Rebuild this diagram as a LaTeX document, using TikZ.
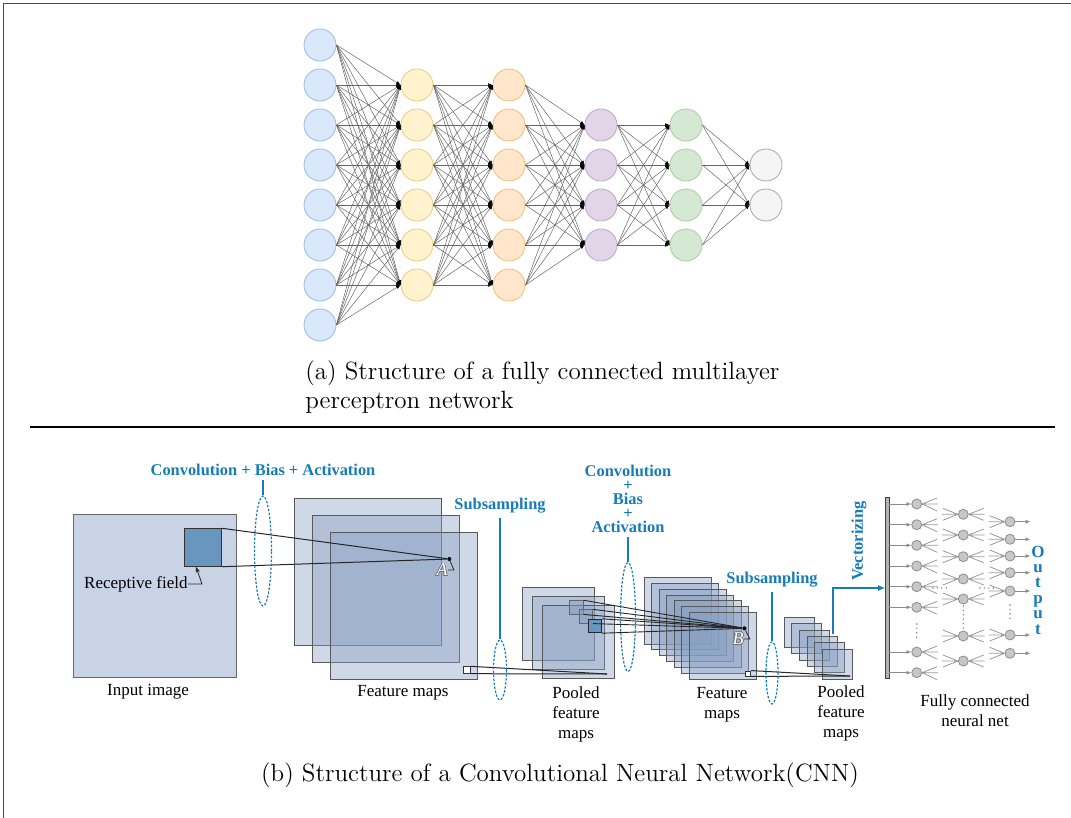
\documentclass[tikz,border=0pt]{standalone}
\usepackage{fontspec}
\usepackage{contour}
\usetikzlibrary{arrows.meta,shapes.geometric}
\newfontfamily\timesfont{Liberation Serif}
\contourlength{0.3pt}
\definecolor{cnnblue}{RGB}{22,124,184}
\definecolor{mapfill}{RGB}{135,158,192}
\definecolor{imgfill}{RGB}{200,212,230}
\definecolor{rffill}{RGB}{104,150,190}
\definecolor{inblue}{HTML}{DAE8FC}
\definecolor{inline}{HTML}{9DB9E3}
\definecolor{yel}{HTML}{FFF2CC}
\definecolor{yelline}{HTML}{E8CD7E}
\definecolor{ora}{HTML}{FFE6CC}
\definecolor{oraline}{HTML}{F0BE72}
\definecolor{pur}{HTML}{E1D5E7}
\definecolor{purline}{HTML}{BCA6C9}
\definecolor{grn}{HTML}{D5E8D4}
\definecolor{grnline}{HTML}{A9CD9B}
\definecolor{gry}{HTML}{F5F5F5}
\definecolor{gryline}{HTML}{A8A8A8}
\tikzset{
  neuron/.style={circle,minimum size=16pt,inner sep=0pt,line width=0.4pt},
  link/.style={black!60,line width=0.25pt,-{Latex[length=2.2pt,width=1.8pt,color=black]}},
  fmap/.style={draw=black!65,fill=mapfill,fill opacity=0.4,line width=0.5pt},
  lbl/.style={font=\timesfont\fontsize{8.5}{10}\selectfont,align=center,inner sep=0pt},
  bluelbl/.style={font=\timesfont\bfseries\fontsize{8.2}{7}\selectfont,text=cnnblue,align=center,inner sep=0pt},
  oval/.style={ellipse,draw=cnnblue,dash pattern=on 1.2pt off 0.8pt,line width=0.6pt,inner sep=0pt},
  unit/.style={circle,draw=black!45,fill=black!22,minimum size=5pt,inner sep=0pt,line width=0.4pt},
  fan/.style={black!40,line width=0.4pt},
  fcarrow/.style={black!45,line width=0.4pt,-{Latex[length=2.4pt,width=2pt]}},
  dotrow/.style={black!50,line width=0.8pt,line cap=round,dash pattern=on 0pt off 2.2pt}
}
\begin{document}
\begin{tikzpicture}[x=0.5pt,y=-0.5pt]
\useasboundingbox (0,0) rectangle (1071,818);
\draw[black!70,line width=0.5pt] (3,818) -- (3,4) -- (1071,4);

\foreach \i in {1,...,8}
  \node[neuron,fill=inblue,draw=inline] (a\i) at (320,5+40*\i) {};
\foreach \i in {1,...,6} {
  \node[neuron,fill=yel,draw=yelline] (b\i) at (417,45+40*\i) {};
  \node[neuron,fill=ora,draw=oraline] (c\i) at (509,45+40*\i) {};
}
\foreach \i in {1,...,4} {
  \node[neuron,fill=pur,draw=purline] (d\i) at (601,85+40*\i) {};
  \node[neuron,fill=grn,draw=grnline] (e\i) at (686,85+40*\i) {};
}
\foreach \i in {1,2}
  \node[neuron,fill=gry,draw=gryline] (f\i) at (766,125+40*\i) {};

\foreach \i in {1,...,8} \foreach \j in {1,...,6} \draw[link] (a\i.east) -- (b\j.west);
\foreach \i in {1,...,6} \foreach \j in {1,...,6} \draw[link] (b\i.east) -- (c\j.west);
\foreach \i in {1,...,6} \foreach \j in {1,...,4} \draw[link] (c\i.east) -- (d\j.west);
\foreach \i in {1,...,4} \foreach \j in {1,...,4} \draw[link] (d\i.east) -- (e\j.west);
\foreach \i in {1,...,4} \foreach \j in {1,2} \draw[link] (e\i.east) -- (f\j.west);

\node[anchor=north west,align=left,inner sep=0pt,font=\fontsize{12.5}{14.5}\selectfont] (capa) at (305,360)
  {(a) Structure of a fully connected multilayer\\perceptron network};
\draw[line width=1pt] (30,427) -- (1055,427);

\draw[black!60,fill=imgfill,line width=0.5pt] (73,514) rectangle (236,677);
\node[draw=black!80,fill=rffill,minimum size=18.7pt,inner sep=0pt,line width=0.5pt] (rf) at (203,547.5) {};
\node[lbl,anchor=east] (rflbl) at (188,584) {Receptive field};
\draw[black!85,line width=0.4pt,-{Stealth[length=3pt,width=2.2pt]}] (rflbl.east) -- ++(14,0) -- (rf.south -| 196,0);

\foreach \k in {0,1,2} \draw[fmap] (294+18*\k,498+17*\k) rectangle ++(147,147);
\node[draw=black!80,fill=white,minimum size=3.3pt,inner sep=0pt,line width=0.4pt] (sb1) at (466.7,670) {};
\node[circle,fill=black,minimum size=2pt,inner sep=0pt] (ptA) at (449.3,559) {};
\node[font=\timesfont\itshape\fontsize{9}{9}\selectfont,inner sep=0pt] (lblA) at (442,570) {\contour{black!55}{\textcolor{white}{A}}};
\draw[black!85,line width=0.4pt] (lblA.east) -- ++(6,0) -- (ptA);
\draw[black!85,line width=0.5pt] (rf.north east) -- (ptA);
\draw[black!85,line width=0.5pt] (rf.south east) -- (ptA);

\foreach \k in {0,1,2} \draw[fmap] (522.7+9.7*\k,587.3+8.9*\k) rectangle ++(72,73.5);
\node[draw=black!60,fill=mapfill,fill opacity=0.5,minimum size=6.7pt,inner sep=0pt,line width=0.4pt] (pa) at (576.3,607.3) {};
\node[draw=black!60,fill=mapfill,fill opacity=0.5,minimum size=6.7pt,inner sep=0pt,line width=0.4pt] (pb) at (586,616.5) {};
\node[draw=black!85,fill=rffill,minimum size=6.7pt,inner sep=0pt,line width=0.5pt] (pc) at (595,626) {};
\coordinate (q1) at (607,674);
\draw[black!85,line width=0.5pt] (sb1.north east) -- (q1);
\draw[black!85,line width=0.5pt] (sb1.south east) -- (q1);

\foreach \k in {0,...,6} \draw[fmap] (644.3+7.5*\k,577.3+5.9*\k) rectangle ++(66.7,66.7);
\node[draw=black!80,fill=white,minimum size=2.5pt,inner sep=0pt,line width=0.4pt] (sb2) at (748.3,673.5) {};
\node[circle,fill=black,minimum size=2pt,inner sep=0pt] (ptB) at (744.5,628.3) {};
\node[font=\timesfont\itshape\fontsize{9}{9}\selectfont,inner sep=0pt] (lblB) at (738,639) {\contour{black!55}{\textcolor{white}{B}}};
\draw[black!85,line width=0.4pt] (lblB.east) -- ++(6,0) -- (ptB);
\foreach \s in {pa,pb,pc} {
  \draw[black!85,line width=0.45pt] (\s.north east) -- (ptB);
  \draw[black!85,line width=0.45pt] (\s.south east) -- (ptB);
}

\foreach \k in {0,...,5} \draw[fmap] (784+7.7*\k,617.3+6.4*\k) rectangle ++(30,30);
\coordinate (q2) at (850,676);
\draw[black!85,line width=0.5pt] (sb2.north east) -- (q2);
\draw[black!85,line width=0.5pt] (sb2.south east) -- (q2);

\node[lbl] (inlbl) at (148,692) {Input image};
\node[lbl] (fm1) at (403,693) {Feature maps};
\node[lbl] (pf1) at (576,714) {Pooled\\feature\\maps};
\node[lbl] (fm2) at (722,705) {Feature\\maps};
\node[lbl] (pf2) at (841,713) {Pooled\\feature\\maps};
\node[lbl] (fclbl) at (975,711) {Fully connected\\neural net};

\node[bluelbl] (conv1) at (263,470) {Convolution + Bias + Activation};
\node[oval,minimum width=8.5pt,minimum height=55pt] (e1) at (263,551) {};
\draw[cnnblue,line width=0.6pt] (conv1.south) ++(0,4) -- (e1.north);
\node[bluelbl] (sub1) at (500,506) {Subsampling};
\node[oval,minimum width=6.5pt,minimum height=30pt] (e2) at (500,670) {};
\draw[cnnblue,line width=0.6pt] (sub1.south) ++(0,4) -- (e2.north);
\node[bluelbl] (conv2) at (628,499) {Convolution\\+\\Bias\\+\\Activation};
\node[oval,minimum width=7.5pt,minimum height=54.5pt] (e3) at (628,617) {};
\draw[cnnblue,line width=0.6pt] (conv2.south) ++(0,4) -- (e3.north);
\node[bluelbl] (sub2) at (772,580) {Subsampling};
\node[oval,minimum width=6pt,minimum height=31pt] (e4) at (772,673) {};
\draw[cnnblue,line width=0.6pt] (sub2.south) ++(0,4) -- (e4.north);

\node[draw=black!75,fill=black!30,minimum width=1.7pt,minimum height=90.5pt,inner sep=0pt,line width=0.4pt] (bar) at (887.3,588) {};
\node[bluelbl,rotate=90] (vec) at (859,541) {Vectorizing};
\coordinate (vstart) at (833,634);
\draw[cnnblue,line width=0.6pt,-{Latex[length=3.5pt,width=3pt]}] (vstart) |- (bar.west);

\foreach \y [count=\n] in {504,524.7,545.3,566,586.7,607.3,652,672.7} {
  \node[unit] (u\n) at (916.7,\y) {};
  \draw[fcarrow] (bar.east |- u\n) -- (u\n.west);
  \draw[fan] (u\n.east) -- ++(15,-6) (u\n.east) -- ++(16,0) (u\n.east) -- ++(15,7);
}
\foreach \y [count=\n] in {514.3,535,556.7,579,599,636,661} {
  \node[unit] (v\n) at (963.3,\y) {};
  \draw[fan] (v\n.east) -- ++(15,-6) (v\n.east) -- ++(16,0) (v\n.east) -- ++(15,6);
  \draw[fan] (v\n.west) -- ++(-15,-6) (v\n.west) -- ++(-16,0) (v\n.west) -- ++(-15,6);
}
\foreach \y [count=\n] in {521.7,539.3,556,572.7,591,635,653.3} {
  \node[unit] (w\n) at (1010,\y) {};
  \draw[fan] (w\n.west) -- ++(-15,-6) (w\n.west) -- ++(-16,0) (w\n.west) -- ++(-15,6);
  \draw[fcarrow] (w\n.east) -- ++(15,0);
}
\draw[dotrow] (933,588) -- (948,588);
\draw[dotrow] (980,588) -- (995,588);
\draw[dotrow] (916.7,624) -- (916.7,640);
\draw[dotrow] (963.3,606) -- (963.3,628);
\draw[dotrow] (1010,605) -- (1010,621);
\node[bluelbl,font=\timesfont\bfseries\fontsize{8.5}{7.7}\selectfont] (outlbl) at (1038,590) {O\\u\\t\\p\\u\\t};

\node[anchor=base,inner sep=0pt,font=\fontsize{12.5}{14.5}\selectfont] (capb) at (560,781)
  {(b) Structure of a Convolutional Neural Network(CNN)};
\end{tikzpicture}
\end{document}
